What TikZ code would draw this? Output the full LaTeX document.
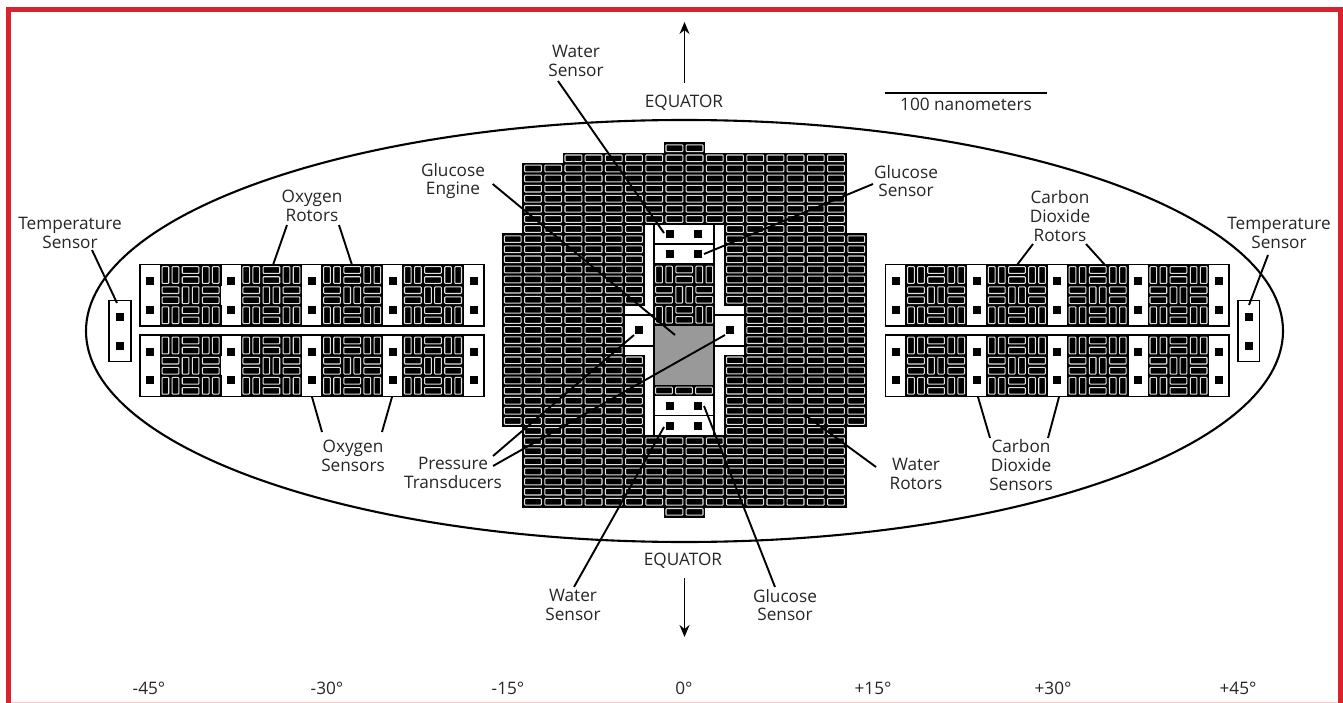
\documentclass[tikz,border=0pt]{standalone}
\usepackage{fontspec}
\setmainfont{Open Sans}
\usetikzlibrary{arrows.meta}
\definecolor{framered}{HTML}{D8232F}
\def\rotorcell(#1,#2)(#3,#4){
	\fill[black] (#1-.7, #2-.7) rectangle ++(#3+1.4, #4+1.4);
	\draw[line width=1.05pt, color=black!12, fill=black, rounded corners=0.8pt] (#1+1.7, #2+1.7) rectangle ++(#3-3.4, #4-3.4);
}
\def\rotorblock(#1,#2){
	\foreach \i in {0,1,2} {
		\foreach \j in {0,1,2} {
			\pgfmathtruncatemacro{\kind}{mod(\i+\j,2)}
			\ifnum\kind=0
				\rotorcell(#1+\i*20.13,#2+\j*20.13)(10.07,20.13)
				\rotorcell(#1+\i*20.13+10.07,#2+\j*20.13)(10.07,20.13)
			\else
				\rotorcell(#1+\i*20.13,#2+\j*20.13)(20.13,10.07)
				\rotorcell(#1+\i*20.13,#2+\j*20.13+10.07)(20.13,10.07)
			\fi
		}
	}
}
\def\sensordot(#1,#2){\fill[black] (#1-4, #2-4) rectangle ++(8, 8);}
\def\rotorpanel(#1,#2){
	\draw[line width=1.8pt, fill=white] (#1, #2) rectangle ++(343.6, 61.5);
	\foreach \k in {0,1,2,3} {
		\rotorblock(#1+20.4+\k*80.8,#2+0.5)
	}
	\foreach \k in {0,1,2,3,4} {
		\sensordot(#1+10.3+\k*80.8,#2+16.5)
		\sensordot(#1+10.3+\k*80.8,#2+45)
	}
}
\tikzset{
	lbl/.style={align=center, text=black!85, font=\fontsize{17.2}{18.7}\selectfont, inner sep=0pt},
	leader/.style={line width=1.9pt, color=black},
	equatorarrow/.style={line width=1.8pt, -{Stealth[length=12pt, width=10pt]}}
}

\begin{document}
\begin{tikzpicture}[x=1pt, y=-1pt]
	\useasboundingbox (0, 0) rectangle (1343, 703);

	%%%%% FRAME %%%%%
	\fill[white] (0, 0) rectangle (1343, 703);
	\draw[line width=5.5pt, color=framered] (8.6, 703) -- (8.6, 9.6) -- (1340.6, 9.6) -- (1340.6, 703);
	\draw[line width=1pt, color=framered!25] (11.4, 702.5) -- (1337.8, 702.5);

	\draw[line width=2.1pt] (684.5, 331) ellipse (598.5 and 211);

	%%%%% CENTRE GRID %%%%%
	\foreach \first/\last/\a/\b in {-1/-1/-1/0, 0/0/-6/7, 1/6/-8/7, 7/7/-8/-3, 7/7/2/7, 8/14/-9/-3, 8/14/2/8, 15/19/-9/-4, 15/19/3/8, 20/26/-9/-3, 20/26/2/8, 27/27/-8/-3, 27/27/2/7, 28/34/-8/7, 35/35/-1/0} {
		\foreach \r in {\first,...,\last} {
			\foreach \c in {\a,...,\b} {
				\rotorcell(684.5+\c*20.2,153.3+\r*10.1)(20.2,10.1)
			}
		}
	}

	%%%%% CENTRE CORE %%%%%
	\draw[line width=1.8pt] (654, 224) rectangle (714, 436);
	\draw[line width=1.8pt] (654, 244.3) -- (714, 244.3);
	\draw[line width=1.8pt] (654, 264) -- (714, 264);
	\draw[line width=1.8pt] (654, 395.5) -- (714, 395.5);
	\draw[line width=1.8pt] (654, 415.5) -- (714, 415.5);
	\rotorblock(654,264.5)
	\draw[line width=1.8pt, fill=black!40] (654, 325) rectangle (714, 385.5);
	\foreach \k in {0,1,2} {
		\rotorcell(654+\k*20,385.5)(20,10)
	}
	\draw[line width=1.8pt] (624, 315) -- (654, 315);
	\draw[line width=1.8pt] (624, 346) -- (654, 346);
	\draw[line width=1.8pt] (714, 315) -- (745, 315);
	\draw[line width=1.8pt] (714, 346) -- (745, 346);

	\sensordot(670.3,234.3)
	\sensordot(698.3,234.3)
	\sensordot(670.3,254.3)
	\sensordot(698.3,254.3)
	\sensordot(670.3,405.7)
	\sensordot(698.3,405.7)
	\sensordot(670.3,426)
	\sensordot(698.3,426)
	\sensordot(639.3,330)
	\sensordot(730,330)

	%%%%% SIDE PANELS %%%%%
	\rotorpanel(140,264.5)
	\rotorpanel(140,335)
	\rotorpanel(885.5,264.5)
	\rotorpanel(885.5,335)

	\draw[line width=1.8pt, fill=white] (109, 300.5) rectangle (131, 361.5);
	\sensordot(120,316.5)
	\sensordot(120,345.5)
	\draw[line width=1.8pt, fill=white] (1238, 300.5) rectangle (1259.5, 361.5);
	\sensordot(1249,317)
	\sensordot(1249,345.5)

	%%%%% LABELS %%%%%
	\node[lbl] (watertop) at (576, 61) {Water\\Sensor};
	\node[lbl] (engine) at (453, 181) {Glucose\\Engine};
	\node[lbl] (glucosetop) at (906, 181) {Glucose\\Sensor};
	\node[lbl] (oxyrotors) at (312, 206) {Oxygen\\Rotors};
	\node[lbl] (templeft) at (70, 233) {Temperature\\Sensor};
	\node[lbl] (co2rotors) at (1060, 216) {Carbon\\Dioxide\\Rotors};
	\node[lbl] (tempright) at (1279, 233) {Temperature\\Sensor};
	\node[lbl] (oxysensors) at (353, 456) {Oxygen\\Sensors};
	\node[lbl] (co2sensors) at (1021, 465) {Carbon\\Dioxide\\Sensors};
	\node[lbl] (pressure) at (453, 473) {Pressure\\Transducers};
	\node[lbl] (waterrotors) at (916, 474) {Water\\Rotors};
	\node[lbl] (waterbot) at (573, 605) {Water\\Sensor};
	\node[lbl] (glucosebot) at (785, 605) {Glucose\\Sensor};
	\node[lbl] (eqtop) at (684, 103) {EQUATOR};
	\node[lbl] (eqbot) at (683, 561) {EQUATOR};
	\node[lbl] (scaletext) at (966, 104) {100 nanometers};

	\node[lbl] (tickA) at (149, 688) {-45°};
	\node[lbl] (tickB) at (327, 688) {-30°};
	\node[lbl] (tickC) at (508, 688) {-15°};
	\node[lbl] (tickD) at (684, 688) {0°};
	\node[lbl] (tickE) at (873, 688) {+15°};
	\node[lbl] (tickF) at (1053, 688) {+30°};
	\node[lbl] (tickG) at (1238, 688) {+45°};

	%%%%% LEADERS %%%%%
	\foreach \name/\xa/\ya/\xb/\yb in {
		watertopl/558/81/664/233, enginel/492.7/184/675/335, glucosetopl/873/184/704/254,
		oxyrotorA/287/225/273/265, oxyrotorB/339/225/352/265, templeftl/92/250/117/303,
		temprightl/1268/255/1249/305, co2rotorA/1033/244/1017/265, co2rotorB/1086/244/1105/265,
		co2sensorA/990/438/978/397, co2sensorB/1048/438/1059/397, oxysensorA/322/432/312/397,
		oxysensorB/382/432/392/397, pressureA/493/456/634/335, pressureB/493/466/725/335,
		waterrotorl/876/467/805/415, waterbotl/574/587/664/427, glucosebotl/775/587/704/406} {
		\coordinate (\name-a) at (\xa, \ya);
		\coordinate (\name-b) at (\xb, \yb);
		\draw[leader] (\name-a) -- (\name-b);
	}

	\coordinate (arrowtopa) at (684.5, 83);
	\coordinate (arrowtopb) at (684.5, 22);
	\draw[equatorarrow] (arrowtopa) -- (arrowtopb);
	\coordinate (arrowbota) at (684.5, 578);
	\coordinate (arrowbotb) at (684.5, 637);
	\draw[equatorarrow] (arrowbota) -- (arrowbotb);

	\coordinate (scalea) at (885, 93);
	\coordinate (scaleb) at (1047, 93);
	\draw[line width=1.6pt] (scalea) -- (scaleb);
\end{tikzpicture}
\end{document}
